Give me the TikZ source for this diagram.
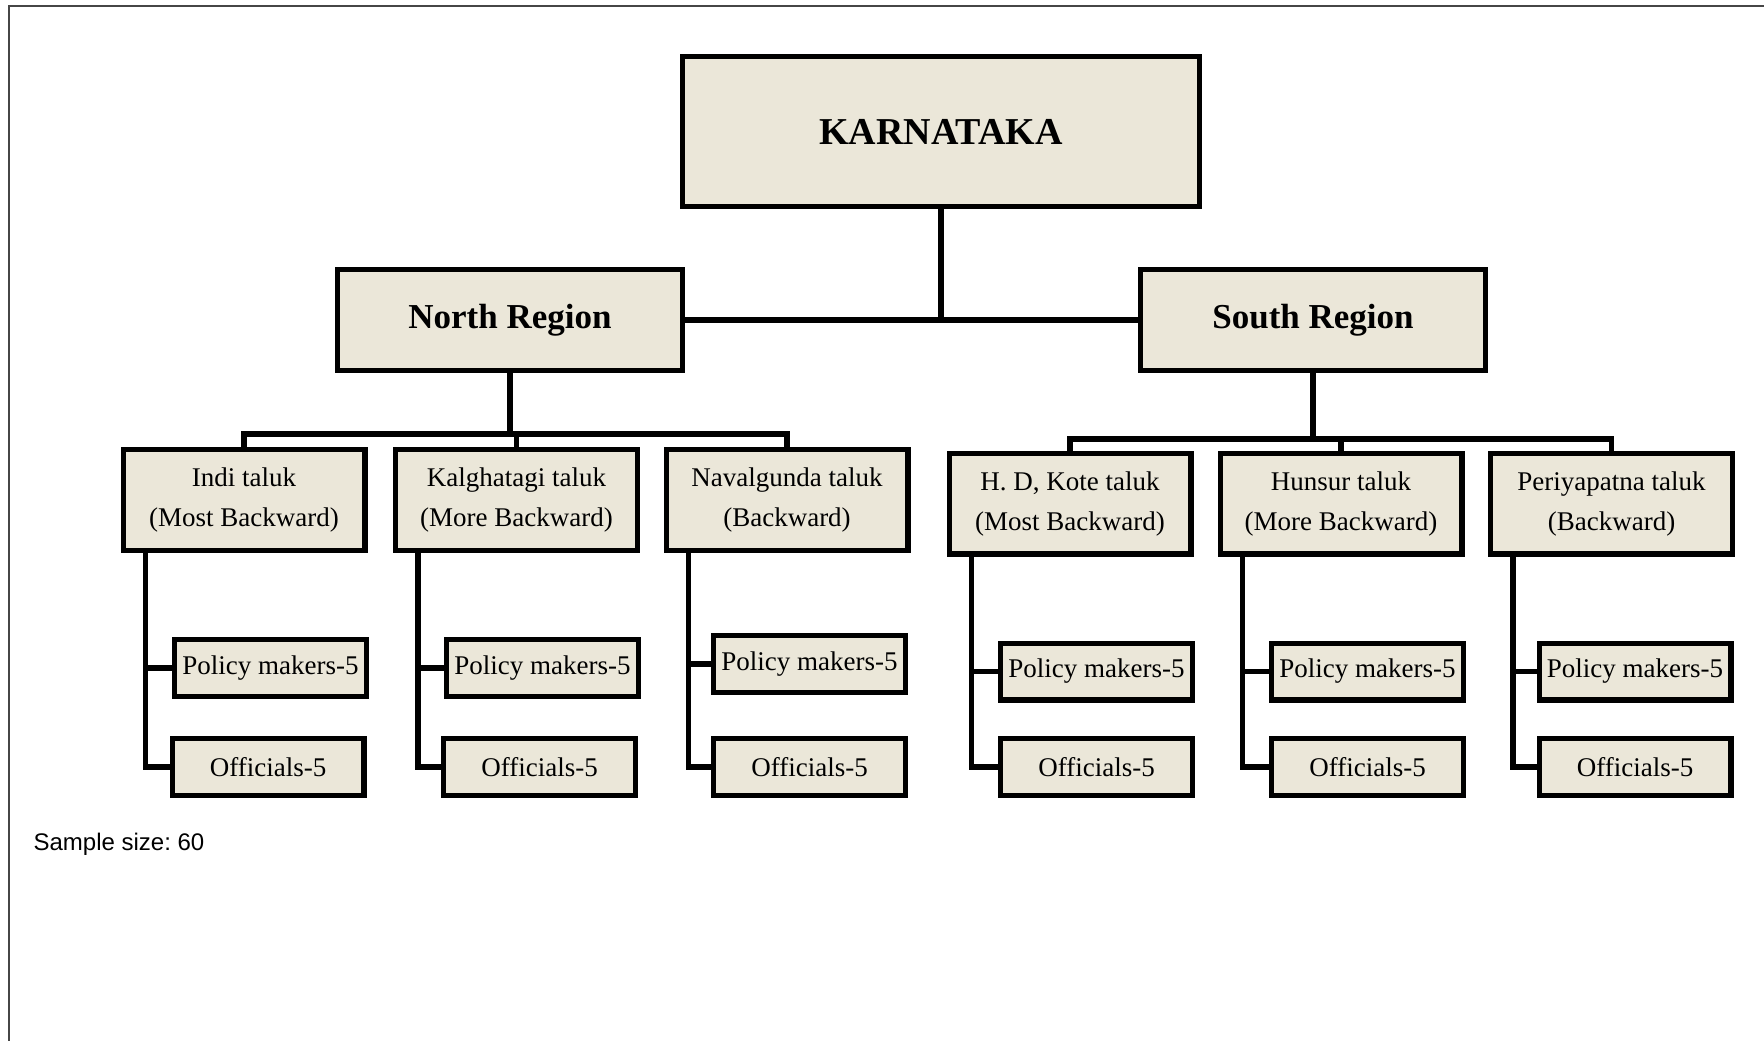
\documentclass[tikz,border=0pt]{standalone}
\usepackage{fontspec}
\setmainfont{Liberation Serif}
\setsansfont{Liberation Sans}
\frenchspacing
\definecolor{boxfill}{RGB}{235,231,217}
\definecolor{framegray}{RGB}{70,70,70}

\begin{document}
\begin{tikzpicture}[x=0.5pt, y=-0.5pt, line width=2.6pt,
    box/.style = {draw, fill=boxfill, inner sep=0pt},
    state/.style = {box, minimum width=258.4pt, minimum height=74.9pt, font=\fontsize{19}{22}\selectfont\bfseries},
    region/.style = {box, minimum width=172.4pt, minimum height=50.4pt, font=\fontsize{17.5}{20}\selectfont\bfseries},
    taluk/.style = {box, minimum width=120.9pt, minimum height=50.4pt, align=center, font=\fontsize{13.5}{20}\selectfont},
    leaf/.style = {box, minimum width=95.9pt, minimum height=28.4pt, font=\fontsize{13.5}{16}\selectfont}]
    \useasboundingbox (0,0) rectangle (1764,1041);

    % Frame
    \coordinate (fr) at (1764,6);
    \coordinate (fc) at (9,6);
    \coordinate (fb) at (9,1041);
    \draw[line width=1.2pt, framegray] (fr) -- (fc) -- (fb);

    % Nodes
    \node[state] (karnataka) at (941,131.5) {KARNATAKA};
    \node[region] (north) at (510,320) {North Region};
    \node[region] (south) at (1313,320) {South Region};

    \node[taluk] (indi) at (244,500) {Indi taluk\\(Most Backward)};
    \node[taluk] (kalghatagi) at (516.5,500) {Kalghatagi taluk\\(More Backward)};
    \node[taluk] (navalgunda) at (787,500) {Navalgunda taluk\\(Backward)};
    \node[taluk] (hdkote) at (1070,503.5) {H. D, Kote taluk\\(Most Backward)};
    \node[taluk] (hunsur) at (1341,503.5) {Hunsur taluk\\(More Backward)};
    \node[taluk] (periyapatna) at (1611.5,503.5) {Periyapatna taluk\\(Backward)};

    \node[leaf] (indipm) at (270.5,668) {Policy makers-5};
    \node[leaf] (indiof) at (268,767) {Officials-5};
    \node[leaf] (kalghatagipm) at (542.5,668) {Policy makers-5};
    \node[leaf] (kalghatagiof) at (539.5,767) {Officials-5};
    \node[leaf] (navalgundapm) at (809.5,664) {Policy makers-5};
    \node[leaf] (navalgundaof) at (809.5,767) {Officials-5};
    \node[leaf] (hdkotepm) at (1096.5,671.5) {Policy makers-5};
    \node[leaf] (hdkoteof) at (1096.5,767) {Officials-5};
    \node[leaf] (hunsurpm) at (1367.5,671.5) {Policy makers-5};
    \node[leaf] (hunsurof) at (1367.5,767) {Officials-5};
    \node[leaf] (periyapatnapm) at (1635,671.5) {Policy makers-5};
    \node[leaf] (periyapatnaof) at (1635,767) {Officials-5};

    \node[anchor=west, inner sep=0pt, font=\sffamily\fontsize{12}{14}\selectfont] (sample) at (31,844) {Sample size: 60};

    % Edges
    \draw (karnataka.south) -- (karnataka.south |- north.east);
    \draw (north.east) -- (south.west);

    \coordinate (nbar) at (510,434);
    \draw (north.south) -- (nbar);
    \draw (indi.north) |- (nbar) -| (navalgunda.north);
    \draw (kalghatagi.north) -- (kalghatagi.north |- nbar);

    \coordinate (sbar) at (1313,439);
    \draw (south.south) -- (sbar);
    \draw (hdkote.north) |- (sbar) -| (periyapatna.north);
    \draw (hunsur.north) -- (hunsur.north |- sbar);

    \draw ([xshift=12.5pt]indi.south west) |- (indiof.west);
    \draw ([xshift=12.5pt]indi.south west) |- (indipm.west);
    \draw ([xshift=12.5pt]kalghatagi.south west) |- (kalghatagiof.west);
    \draw ([xshift=12.5pt]kalghatagi.south west) |- (kalghatagipm.west);
    \draw ([xshift=12.5pt]navalgunda.south west) |- (navalgundaof.west);
    \draw ([xshift=12.5pt]navalgunda.south west) |- (navalgundapm.west);
    \draw ([xshift=12.5pt]hdkote.south west) |- (hdkoteof.west);
    \draw ([xshift=12.5pt]hdkote.south west) |- (hdkotepm.west);
    \draw ([xshift=12.5pt]hunsur.south west) |- (hunsurof.west);
    \draw ([xshift=12.5pt]hunsur.south west) |- (hunsurpm.west);
    \draw ([xshift=12.5pt]periyapatna.south west) |- (periyapatnaof.west);
    \draw ([xshift=12.5pt]periyapatna.south west) |- (periyapatnapm.west);
\end{tikzpicture}
\end{document}
